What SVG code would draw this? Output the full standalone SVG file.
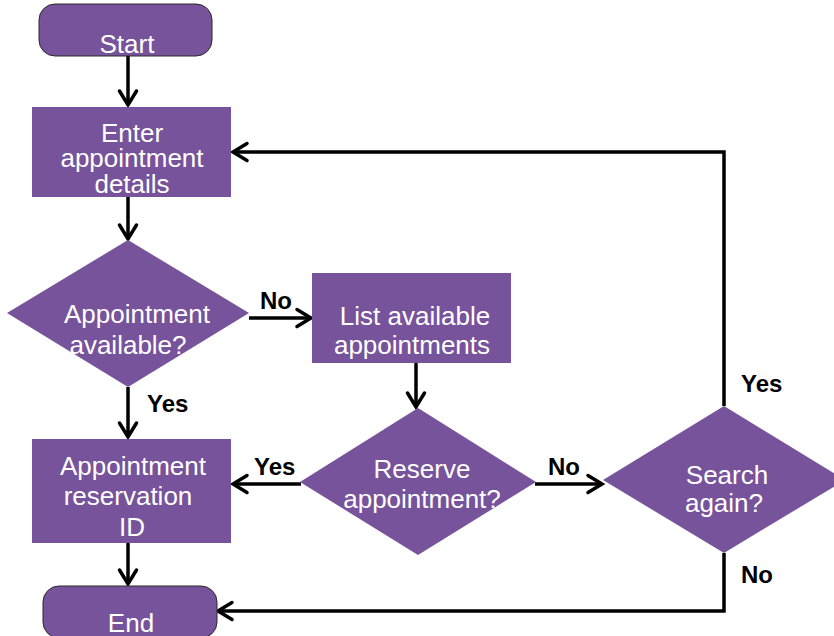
<svg xmlns="http://www.w3.org/2000/svg" width="834" height="636" viewBox="0 0 834 636">
<defs>
<style>
.n{fill:#77539B}
.t{fill:#77539B;stroke:#2a2a2a;stroke-width:1}
.tx{font-family:"Liberation Sans",Arial,sans-serif;font-size:26px;fill:#ffffff;text-anchor:middle}
.lb{font-family:"Liberation Sans",Arial,sans-serif;font-size:24px;font-weight:bold;fill:#000000}
.c{fill:none;stroke:#000000;stroke-width:3.5;marker-end:url(#ah)}
</style>
<marker id="ah" markerUnits="userSpaceOnUse" viewBox="0 0 20 20" refX="16" refY="10" markerWidth="20" markerHeight="20" orient="auto" overflow="visible">
<path d="M2,1.5 L16,10 L2,18.5" fill="none" stroke="#000000" stroke-width="3.5" stroke-linecap="round" stroke-linejoin="miter"/>
</marker>
</defs>
<rect width="834" height="636" fill="#ffffff"/>
<g id="connectors">
<line class="c" x1="128" y1="56" x2="128" y2="105"/>
<line class="c" x1="128" y1="197" x2="128" y2="239"/>
<line class="c" x1="249" y1="318" x2="311" y2="318"/>
<line class="c" x1="128" y1="387" x2="128" y2="437"/>
<line class="c" x1="416" y1="363" x2="416" y2="407"/>
<line class="c" x1="301" y1="484" x2="233" y2="484"/>
<line class="c" x1="535" y1="484" x2="602" y2="484"/>
<polyline class="c" points="724,406 724,152 233,152"/>
<polyline class="c" points="724,553 724,611 218,611"/>
<line class="c" x1="128" y1="543" x2="128" y2="584"/>
<text class="lb" x="260" y="309">No</text>
<text class="lb" x="147" y="412">Yes</text>
<text class="lb" x="254" y="475">Yes</text>
<text class="lb" x="548" y="475">No</text>
<text class="lb" x="741" y="392">Yes</text>
<text class="lb" x="741" y="583">No</text>
</g>
<g id="start">
<rect class="t" x="39" y="4" width="173" height="52" rx="16" ry="16"/>
<text class="tx" x="127" y="53">Start</text>
</g>
<g id="enter">
<rect class="n" x="32" y="107" width="199" height="90"/>
<text class="tx" x="132" y="142">Enter</text>
<text class="tx" x="132" y="167">appointment</text>
<text class="tx" x="132" y="193">details</text>
</g>
<g id="available">
<polygon class="n" points="128,240 249,313 128,387 7,313"/>
<text class="tx" x="137" y="323">Appointment</text>
<text class="tx" x="128" y="354">available?</text>
</g>
<g id="list">
<rect class="n" x="312" y="273" width="199" height="90"/>
<text class="tx" x="415" y="325">List available</text>
<text class="tx" x="412" y="354">appointments</text>
</g>
<g id="reserve">
<polygon class="n" points="418,408 536,482 418,555 300,482"/>
<text class="tx" x="422" y="478">Reserve</text>
<text class="tx" x="422" y="508">appointment?</text>
</g>
<g id="search">
<polygon class="n" points="724,406 845,480 724,553 603,480"/>
<text class="tx" x="727" y="484">Search</text>
<text class="tx" x="724" y="512">again?</text>
</g>
<g id="reservation">
<rect class="n" x="32" y="439" width="199" height="104"/>
<text class="tx" x="133" y="475">Appointment</text>
<text class="tx" x="128" y="505">reservation</text>
<text class="tx" x="132" y="536">ID</text>
</g>
<g id="end">
<rect class="t" x="43" y="586" width="174" height="52" rx="16" ry="16"/>
<text class="tx" x="131" y="632">End</text>
</g>
</svg>
